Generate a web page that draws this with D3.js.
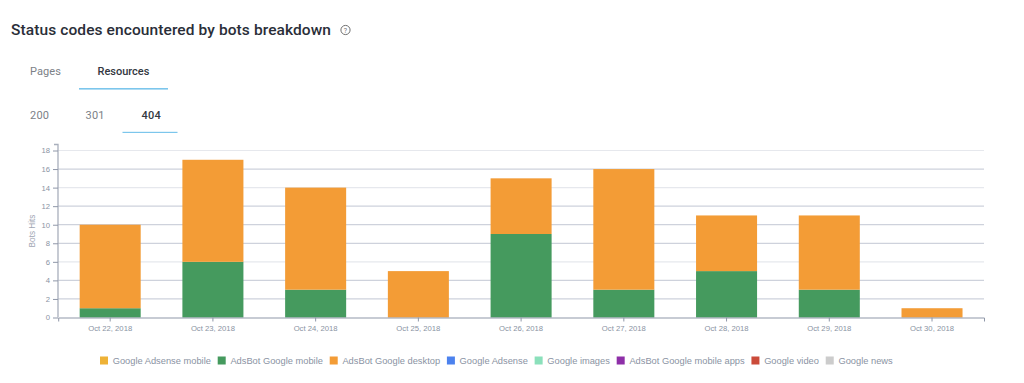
<!DOCTYPE html>
<html>
<head>
<meta charset="utf-8">
<script src="https://cdn.jsdelivr.net/npm/d3@7"></script>
<style>
  html, body { margin: 0; padding: 0; background: #fff; }
  svg { display: block; }
  .axis text { font-family: "Liberation Sans", sans-serif; font-size: 7.7px; fill: #8a93a3; }
</style>
</head>
<body>
<div id="chart"></div>
<script>
var w = 1024;
var h = 383;

var days = ["Oct 22, 2018", "Oct 23, 2018", "Oct 24, 2018", "Oct 25, 2018", "Oct 26, 2018",
            "Oct 27, 2018", "Oct 28, 2018", "Oct 29, 2018", "Oct 30, 2018"];
var seriesNames = ["Google Adsense mobile", "AdsBot Google mobile", "AdsBot Google desktop", "Google Adsense",
                   "Google images", "AdsBot Google mobile apps", "Google video", "Google news"];
var seriesColors = ["#eeb237", "#459a5e", "#f39c36", "#4c82ee", "#8be0bb", "#8e2fa8", "#cb4b3a", "#cccccc"];

var adsenseMobile = [0, 0, 0, 0, 0, 0, 0, 0, 0];
var adsbotMobile = [1, 6, 3, 0, 9, 3, 5, 3, 0];
var adsbotDesktop = [9, 11, 11, 5, 6, 13, 6, 8, 1];
var adsense = [0, 0, 0, 0, 0, 0, 0, 0, 0];
var images = [0, 0, 0, 0, 0, 0, 0, 0, 0];
var adsbotApps = [0, 0, 0, 0, 0, 0, 0, 0, 0];
var video = [0, 0, 0, 0, 0, 0, 0, 0, 0];
var news = [0, 0, 0, 0, 0, 0, 0, 0, 0];

var allSeries = [adsenseMobile, adsbotMobile, adsbotDesktop, adsense, images, adsbotApps, video, news];
var yTicks = [0, 2, 4, 6, 8, 10, 12, 14, 16, 18];
var fadedTicks = [6, 14, 18];

var rows = days.map(function(day, i) {
    var row = { day: day };
    seriesNames.forEach(function(name, s) { row[name] = allSeries[s][i]; });
    return row;
});

var stacked = d3.stack().keys(seriesNames)(rows);

var svg = d3.select("#chart")
            .append("svg")
            .attr("width", w)
            .attr("height", h);

var xScale = d3.scaleBand()
               .domain(days)
               .range([58.2, 984])
               .paddingInner(0.406)
               .paddingOuter(0.209);

var yScale = d3.scaleLinear()
               .domain([0, 18])
               .range([317.5, 150.5]);

// header text
function label(x, y, str, size, weight, color, spacing) {
    return svg.append("text")
              .attr("x", x)
              .attr("y", y)
              .attr("font-family", "Roboto, sans-serif")
              .attr("font-size", size)
              .attr("font-weight", weight)
              .attr("letter-spacing", spacing)
              .attr("fill", color)
              .text(str);
}

label(11, 34.5, "Status codes encountered by bots breakdown", 15.5, 500, "#2a2e38", 0.1);
label(30, 75, "Pages", 11, 400, "#7c8187", 0.1);
label(97.5, 75, "Resources", 11, 500, "#33383f", 0);
label(30, 118.5, "200", 11, 400, "#7c8187", 0.2);
label(85.5, 118.5, "301", 11, 400, "#7c8187", 0.2);
label(141.5, 118.5, "404", 11, 500, "#33383f", 0.2);

// help icon
svg.append("circle").attr("cx", 345.5).attr("cy", 30).attr("r", 4.6)
   .attr("fill", "none").attr("stroke", "#6f6f6f").attr("stroke-width", 1);
svg.append("text").attr("x", 345.5).attr("y", 32.6).attr("text-anchor", "middle")
   .attr("font-family", "Roboto, sans-serif").attr("font-size", 7).attr("fill", "#6f6f6f").text("?");

// active tab underlines
svg.append("rect").attr("x", 79).attr("y", 88).attr("width", 89).attr("height", 1.6).attr("fill", "#7cc6ec");
svg.append("rect").attr("x", 122.5).attr("y", 131.8).attr("width", 55).attr("height", 1.2).attr("fill", "#7cc6ec");

// grid
svg.append("g")
   .selectAll("line")
   .data(yTicks.slice(1))
   .enter()
   .append("line")
   .attr("x1", 58)
   .attr("x2", 984)
   .attr("y1", function(d) { return yScale(d); })
   .attr("y2", function(d) { return yScale(d); })
   .attr("stroke", function(d) { return fadedTicks.indexOf(d) >= 0 ? "#e6e8ed" : "#ced2dc"; })
   .attr("stroke-width", 1.2);

// bars
svg.selectAll("g.layer")
   .data(stacked)
   .enter()
   .append("g")
   .attr("class", "layer")
   .attr("fill", function(d, i) { return seriesColors[i]; })
   .selectAll("rect")
   .data(function(d) { return d; })
   .enter()
   .append("rect")
   .attr("x", function(d) { return xScale(d.data.day); })
   .attr("y", function(d) { return yScale(d[1]); })
   .attr("width", xScale.bandwidth())
   .attr("height", function(d) { return yScale(d[0]) - yScale(d[1]); });

// axes
var xAxis = d3.axisBottom(xScale).tickSize(4).tickPadding(4);
var yAxis = d3.axisLeft(yScale).tickValues(yTicks).tickSize(5).tickPadding(3);

var xG = svg.append("g")
            .attr("class", "axis")
            .attr("transform", "translate(0,317.5)")
            .call(xAxis);
var yG = svg.append("g")
            .attr("class", "axis")
            .attr("transform", "translate(58,0)")
            .call(yAxis);

xG.selectAll("path, line").attr("stroke", "#8f97a8");
yG.selectAll("line").attr("stroke", "#8f97a8");
yG.select("path").attr("d", "M-4,144.5H0V317.5").attr("stroke", "#a9afbc").attr("stroke-width", 1.3).attr("fill", "none");

svg.append("text")
   .attr("transform", "translate(34.5,231) rotate(-90)")
   .attr("text-anchor", "middle")
   .attr("font-family", "Liberation Sans, sans-serif")
   .attr("font-size", 8.2)
   .attr("fill", "#a0a6b3")
   .text("Bots Hits");

// legend
var legendX = 100;
seriesNames.forEach(function(name, i) {
    svg.append("rect")
       .attr("x", legendX)
       .attr("y", 356.5)
       .attr("width", 8)
       .attr("height", 8)
       .attr("fill", seriesColors[i]);
    var t = svg.append("text")
               .attr("x", legendX + 12.7)
               .attr("y", 364.2)
               .attr("font-family", "Liberation Sans, sans-serif")
               .attr("font-size", 9.3)
               .attr("fill", "#8a93a3")
               .text(name);
    legendX += 12.7 + t.node().getComputedTextLength() + 6.8;
});
</script>
</body>
</html>
